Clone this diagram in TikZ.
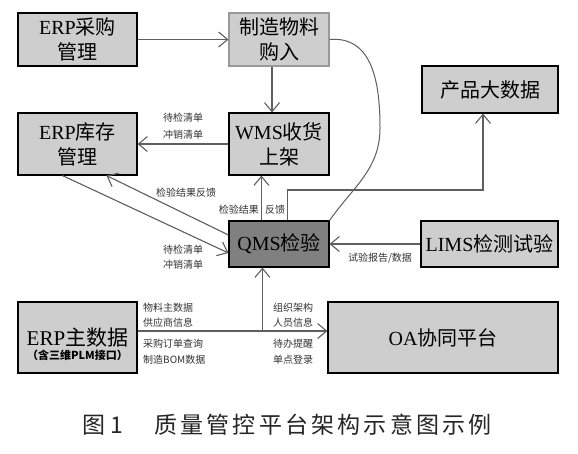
\documentclass[tikz,border=0pt]{standalone}
\usepackage{fontspec}
\setmainfont{Liberation Serif}
\newfontfamily\cjk{Noto Sans CJK SC}
\newfontfamily\capfont[LetterSpace=14]{Noto Sans CJK SC}
\usetikzlibrary{arrows.meta,calc}
\definecolor{boxgray}{RGB}{206,206,206}
\definecolor{qmsgray}{RGB}{128,128,128}
\definecolor{linegray}{RGB}{95,95,95}
\definecolor{labgray}{RGB}{50,50,50}
\tikzset{
  box/.style={draw=black,line width=1.1pt,fill=boxgray,inner sep=0pt,align=center,
    font=\fontsize{20}{25}\selectfont},
  arr/.style={draw=linegray,line width=1.1pt,-{Straight Barb[length=9pt,width=15pt,line width=1.1pt]}},
  plain/.style={draw=linegray,line width=1pt},
  lab/.style={font=\cjk\fontsize{10}{12}\selectfont,text=labgray,inner sep=0pt}
}
\begin{document}
\begin{tikzpicture}[x=1pt,y=-1pt]
\useasboundingbox[fill=white] (0,0) rectangle (578,453);
% boxes
\node[box,minimum width=119pt,minimum height=53pt] (erpcg) at (77.5,39.5) {ERP{\cjk 采购}\\{\cjk 管理}};
\node[box,draw=gray!80,minimum width=100pt,minimum height=53pt] (zzwl) at (279,39.5) {{\cjk 制造物料}\\{\cjk 购入}};
\node[box,minimum width=119pt,minimum height=62pt] (erpkc) at (77.5,144) {ERP{\cjk 库存}\\{\cjk 管理}};
\node[box,minimum width=100pt,minimum height=62pt] (wms) at (279,144) {WMS{\cjk 收货}\\{\cjk 上架}};
\node[box,minimum width=136pt,minimum height=47pt] (cpdsj) at (490,89.5) {{\cjk 产品大数据}};
\node[box,fill=qmsgray,minimum width=100pt,minimum height=46pt] (qms) at (279,244) {QMS{\cjk 检验}};
\node[box,minimum width=137pt,minimum height=46pt] (lims) at (489.5,244) {LIMS{\cjk 检测试验}};
\node[box,minimum width=119pt,minimum height=71pt] (erpzsj) at (77.5,337.5) {};
\node[inner sep=0pt,align=center] (erpzsjt) at (77.5,344) {{\fontsize{21}{24}\selectfont ERP{\cjk 主数据}}\\[2pt]{\fontsize{11}{13}\selectfont\cjk\bfseries （含三维PLM接口）}};
\node[box,minimum width=230pt,minimum height=71pt] (oa) at (443,337.5) {OA{\cjk 协同平台}};
% connectors
\draw[arr] (erpcg.east) -- (zzwl.west);
\draw[arr] ($(zzwl.south)+(-7,0)$) -- ($(wms.north)+(-7,0)$);
\draw[arr] (wms.west) -- (erpkc.east);
\draw[arr] ($(erpkc.south west)+(45,0)$) -- ($(qms.west)+(0,9)$);
\draw[arr] ($(qms.west)+(0,-9)$) -- ($(erpkc.south west)+(89,0)$);
\draw[arr] ($(qms.north west)+(33,0)$) -- ($(wms.south west)+(33,0)$);
\coordinate (c6) at (483,190);
\draw[arr] ($(qms.north west)+(59,0)$) |- (c6) -- (c6 |- cpdsj.south);
\coordinate (cv) at (380,128);
\draw[plain] (zzwl.east) to[out=5,in=90,looseness=1.1] (cv) to[out=-90,in=55,looseness=1] (qms.north east);
\draw[arr] (lims.west) -- (qms.east);
\coordinate (s9) at ($(erpzsj.east)+(0,-6.5)$);
\draw[arr] (s9) -- (s9 -| oa.west);
\draw[arr] ($(s9 -| qms.south west)+(34,0)$) -- ($(qms.south west)+(34,0)$);
% labels
\node[lab] (l1a) at (183,118) {待检清单};
\node[lab] (l1b) at (183,135) {冲销清单};
\node[lab] (l2) at (186,193) {检验结果反馈};
\node[lab,anchor=east] (l3a) at (259,210) {检验结果};
\node[lab,anchor=west] (l3b) at (265,210) {反馈};
\node[lab] (l4a) at (183,250) {待检清单};
\node[lab] (l4b) at (183,265) {冲销清单};
\node[lab] (l5) at (380,258) {试验报告/数据};
\node[lab,anchor=west] (l6a) at (143,308) {物料主数据};
\node[lab,anchor=west] (l6b) at (143,323) {供应商信息};
\node[lab,anchor=west] (l7a) at (143,344) {采购订单查询};
\node[lab,anchor=west] (l7b) at (143,360) {制造BOM数据};
\node[lab,anchor=west] (l8a) at (273,308) {组织架构};
\node[lab,anchor=west] (l8b) at (273,323) {人员信息};
\node[lab,anchor=west] (l9a) at (273,344) {待办提醒};
\node[lab,anchor=west] (l9b) at (273,360) {单点登录};
% caption
\node[anchor=west,inner sep=0pt,font=\cjk\fontsize{23}{26}\selectfont,text=black!85] (cap1) at (82,425) {图 1};
\node[anchor=west,inner sep=0pt,font=\capfont\fontsize{23}{26}\selectfont,text=black!85] (cap2) at (154,425) {质量管控平台架构示意图示例};
\end{tikzpicture}
\end{document}
